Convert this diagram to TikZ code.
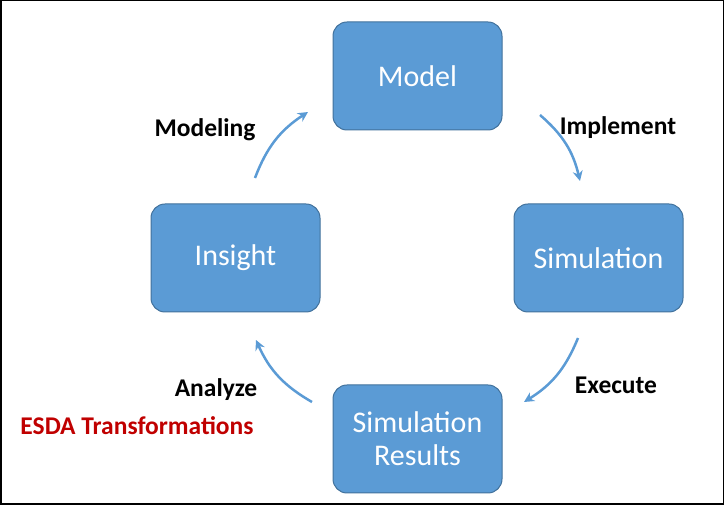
\documentclass[tikz,border=0pt]{standalone}
\usepackage{fontspec}
\setmainfont{Carlito}
\usetikzlibrary{arrows.meta}
\definecolor{boxfill}{HTML}{5B9BD5}
\definecolor{boxline}{HTML}{41719C}
\definecolor{darkred}{HTML}{C00000}
\begin{document}
\begin{tikzpicture}[x=1pt,y=1pt,
  box/.style={draw=boxline,line width=1pt,fill=boxfill,rounded corners=14pt,minimum width=169pt,minimum height=108pt,text=white,font=\fontsize{30}{33}\selectfont,align=center},
  lbl/.style={font=\bfseries\fontsize{25.5}{28}\selectfont},
  arr/.style={draw=boxfill,line width=2.5pt,-{Stealth[length=10pt,width=10pt]}}]
\useasboundingbox (0,0) rectangle (724,505);
\draw[line width=1.5pt] (0.75,0.75) rectangle (723.25,504.25);
\node[box] (model) at (417.5,429) {Model};
\node[box] (sim) at (598.5,247) {Simulation};
\node[box] (ins) at (235.5,247) {Insight};
\node[box] (res) at (417.5,66) {Simulation\\Results};
\coordinate (a1) at (540,390); \coordinate (a2) at (580,324);
\coordinate (b1) at (255,327); \coordinate (b2) at (308,393);
\coordinate (c1) at (578,167); \coordinate (c2) at (524,103);
\coordinate (d1) at (312,103); \coordinate (d2) at (256,165);
\draw[arr] (a1) to[bend left=18] (a2);
\draw[arr] (b1) to[bend left=18] (b2);
\draw[arr] (c1) to[bend left=18] (c2);
\draw[arr] (d1) to[bend left=18] (d2);
\node[lbl] (l1) at (618,377) {Implement};
\node[lbl] (l2) at (205,375) {Modeling};
\node[lbl] (l3) at (616,120) {Execute};
\node[lbl] (l4) at (216,115) {Analyze};
\node[lbl,text=darkred] (l5) at (137,79) {ESDA Transformations};
\end{tikzpicture}
\end{document}
